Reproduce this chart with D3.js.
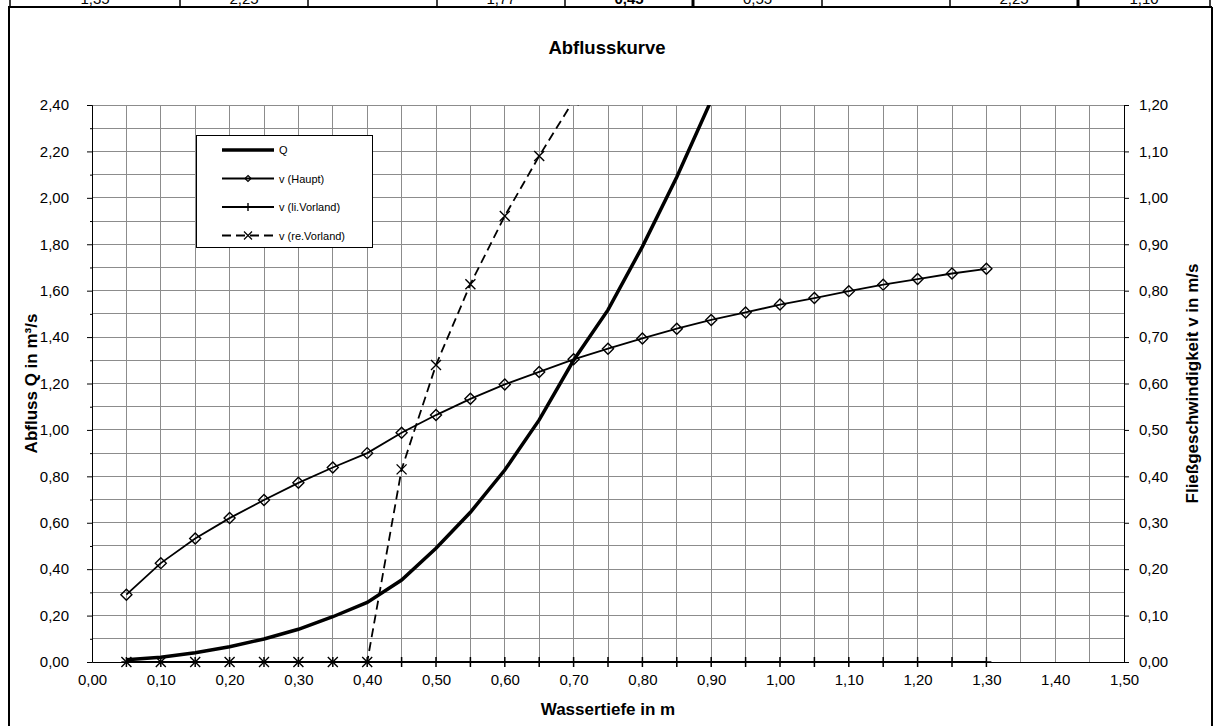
<!DOCTYPE html>
<html>
<head>
<meta charset="utf-8">
<script src="https://cdn.jsdelivr.net/npm/d3@7"></script>
<style>
  body { margin: 0; background: #fff; }
  text { font-family: "Liberation Sans", Arial, sans-serif; }
</style>
</head>
<body>
<div id="chart"></div>
<script>
// Wassertiefe (m)
const depths = [0.05, 0.10, 0.15, 0.20, 0.25, 0.30, 0.35, 0.40, 0.45, 0.50, 0.55, 0.60, 0.65,
                0.70, 0.75, 0.80, 0.85, 0.90, 0.95, 1.00, 1.05, 1.10, 1.15, 1.20, 1.25, 1.30];
// Abfluss Q (m³/s), left axis; goes off the top after 0.90
const qValues = [0.01, 0.02, 0.04, 0.066, 0.099, 0.141, 0.195, 0.257, 0.353, 0.49, 0.645, 0.827, 1.043,
                 1.30, 1.517, 1.79, 2.09, 2.42];
// v (Haupt) m/s, right axis
const vHaupt = [0.145, 0.213, 0.266, 0.31, 0.349, 0.386, 0.419, 0.45, 0.494, 0.532, 0.567, 0.598, 0.625,
                0.652, 0.675, 0.697, 0.718, 0.737, 0.753, 0.770, 0.784, 0.799, 0.813, 0.825, 0.837, 0.847];
// v (li.Vorland) m/s
const vLi = [0, 0, 0, 0, 0, 0, 0, 0, 0, 0, 0, 0, 0, 0, 0, 0, 0, 0, 0, 0, 0, 0, 0, 0, 0, 0];
// v (re.Vorland) m/s; goes off the top after 0.65
const vRe = [0, 0, 0, 0, 0, 0, 0, 0, 0.415, 0.64, 0.814, 0.961, 1.09, 1.21];

const legendNames = ["Q", "v (Haupt)", "v (li.Vorland)", "v (re.Vorland)"];
// table row above the chart (only the bottom of it is visible)
const tableCells = ["1,35", "2,25", "", "1,77", "0,45", "0,55", "", "2,25", "1,10"];
const tableEdges = [10, 180, 308, 437, 565, 693, 822, 950, 1078, 1210];

const W = 1214, H = 726;
const margin = {top: 105, right: 90, bottom: 64, left: 92},
      width = W - margin.left - margin.right,
      height = H - margin.top - margin.bottom;

const fmt = v => d3.format(".2f")(v).replace(".", ",");

const root = d3.select("#chart").append("svg")
    .attr("width", W)
    .attr("height", H);

// table strip at the very top
root.selectAll(".cellText")
  .data(tableCells)
  .join("text")
    .attr("x", (d, i) => (tableEdges[i] + tableEdges[i + 1]) / 2)
    .attr("y", 4)
    .attr("text-anchor", "middle")
    .style("font-size", "15px")
    .style("font-weight", (d, i) => i === 4 ? "bold" : "normal")
    .text(d => d);
root.append("rect").attr("x", 0).attr("y", 6).attr("width", W).attr("height", H - 6).attr("fill", "#fff");
root.selectAll(".cellLine")
  .data(tableEdges)
  .join("line")
    .attr("x1", d => d).attr("x2", d => d)
    .attr("y1", 0).attr("y2", 7)
    .attr("stroke", "#000")
    .attr("stroke-width", (d, i) => (i === 5 || i === 8) ? 3 : 1.5);
root.append("line").attr("x1", 8).attr("x2", 1212).attr("y1", 7).attr("y2", 7)
    .attr("stroke", "#000").attr("stroke-width", 2);
// chart frame
root.append("line").attr("x1", 9).attr("x2", 9).attr("y1", 7).attr("y2", H)
    .attr("stroke", "#000").attr("stroke-width", 2);
root.append("line").attr("x1", 1212).attr("x2", 1212).attr("y1", 7).attr("y2", H)
    .attr("stroke", "#000").attr("stroke-width", 2);

const svg = root.append("g")
    .attr("transform", `translate(${margin.left}, ${margin.top})`);

const x = d3.scaleLinear().domain([0, 1.5]).range([0, width]);
const yL = d3.scaleLinear().domain([0, 2.4]).range([height, 0]);
const yR = d3.scaleLinear().domain([0, 1.2]).range([height, 0]);

// grid
svg.append("g")
  .selectAll("line")
  .data(d3.range(1, 31).map(i => i * 0.05))
  .join("line")
    .attr("x1", d => x(d)).attr("x2", d => x(d))
    .attr("y1", 0).attr("y2", height)
    .attr("stroke", "#8c8c8c").attr("stroke-width", 1)
    .attr("shape-rendering", "crispEdges");
svg.append("g")
  .selectAll("line")
  .data(d3.range(1, 25).map(i => i * 0.1))
  .join("line")
    .attr("x1", 0).attr("x2", width)
    .attr("y1", d => yL(d)).attr("y2", d => yL(d))
    .attr("stroke", "#8c8c8c").attr("stroke-width", 1)
    .attr("shape-rendering", "crispEdges");

// left axis
const leftTicks = d3.range(0, 13).map(i => i * 0.2);
svg.append("g")
    .call(d3.axisLeft(yL).tickValues(leftTicks).tickFormat(fmt).tickSize(5).tickPadding(18))
    .call(g => g.selectAll("text").style("font-size", "15px").attr("fill", "#000"))
    .call(g => g.selectAll("line, path").attr("stroke", "#000"));
svg.append("g")
    .call(d3.axisLeft(yL).tickValues(d3.range(0, 12).map(i => i * 0.2 + 0.1)).tickFormat("").tickSize(2))
    .call(g => g.select("path").remove());

// right axis
svg.append("g")
    .attr("transform", `translate(${width}, 0)`)
    .call(d3.axisRight(yR).tickValues(d3.range(0, 13).map(i => i * 0.1)).tickFormat(fmt).tickSize(5).tickPadding(10))
    .call(g => g.selectAll("text").style("font-size", "15px").attr("fill", "#000"))
    .call(g => g.selectAll("line, path").attr("stroke", "#000"));

// bottom axis
svg.append("g")
    .attr("transform", `translate(0, ${height})`)
    .call(d3.axisBottom(x).tickValues(d3.range(0, 16).map(i => i * 0.1)).tickFormat(fmt).tickSize(0).tickPadding(12))
    .call(g => g.selectAll("text").style("font-size", "15px").attr("fill", "#000"))
    .call(g => g.select("path").attr("stroke", "#000"));

// clip to plot area
svg.append("clipPath").attr("id", "plotClip")
  .append("rect").attr("x", -6).attr("y", 0).attr("width", width + 12).attr("height", height + 8);

const plot = svg.append("g").attr("clip-path", "url(#plotClip)");

const lineL = d3.line().x(d => x(d[0])).y(d => yL(d[1]));
const lineR = d3.line().x(d => x(d[0])).y(d => yR(d[1]));

const qData = qValues.map((v, i) => [depths[i], v]);
const hData = vHaupt.map((v, i) => [depths[i], v]);
const liData = vLi.map((v, i) => [depths[i], v]);
const reData = vRe.map((v, i) => [depths[i], v]);

// v (li.Vorland)
plot.append("path").datum(liData).attr("d", lineR)
    .attr("fill", "none").attr("stroke", "#000").attr("stroke-width", 2);
plot.append("g").selectAll("path").data(liData).join("path")
    .attr("d", d => `M${x(d[0]) - 5},${yR(d[1])}h10M${x(d[0])},${yR(d[1]) - 5}v10`)
    .attr("stroke", "#000").attr("stroke-width", 1.5);

// v (re.Vorland)
plot.append("path").datum(reData).attr("d", lineR)
    .attr("fill", "none").attr("stroke", "#000").attr("stroke-width", 1.8)
    .attr("stroke-dasharray", "9,5");
plot.append("g").selectAll("path").data(reData).join("path")
    .attr("d", d => `M${x(d[0]) - 5},${yR(d[1]) - 5}l10,10M${x(d[0]) - 5},${yR(d[1]) + 5}l10,-10`)
    .attr("stroke", "#000").attr("stroke-width", 1.4);

// v (Haupt)
plot.append("path").datum(hData).attr("d", lineR)
    .attr("fill", "none").attr("stroke", "#000").attr("stroke-width", 1.8);
plot.append("g").selectAll("path").data(hData).join("path")
    .attr("d", d => `M${x(d[0])},${yR(d[1]) - 5.5}l5.5,5.5l-5.5,5.5l-5.5,-5.5z`)
    .attr("fill", "none").attr("stroke", "#000").attr("stroke-width", 1.4);

// Q
plot.append("path").datum(qData).attr("d", lineL)
    .attr("fill", "none").attr("stroke", "#000").attr("stroke-width", 3.5);

// titles
root.append("text")
    .attr("x", 607).attr("y", 54)
    .attr("text-anchor", "middle")
    .style("font-size", "18.5px").style("font-weight", "bold")
    .text("Abflusskurve");

root.append("text")
    .attr("x", margin.left + width / 2).attr("y", 715)
    .attr("text-anchor", "middle")
    .style("font-size", "17px").style("font-weight", "bold")
    .text("Wassertiefe in m");

root.append("text")
    .attr("transform", `translate(37, ${margin.top + height / 2}) rotate(-90)`)
    .attr("text-anchor", "middle")
    .style("font-size", "17px").style("font-weight", "bold")
    .text("Abfluss Q  in m³/s");

root.append("text")
    .attr("transform", `translate(1198, ${margin.top + height / 2}) rotate(-90)`)
    .attr("text-anchor", "middle")
    .style("font-size", "17px").style("font-weight", "bold")
    .text("Fließgeschwindigkeit v in m/s");

// legend
const legend = root.append("g");
legend.append("rect")
    .attr("x", 196.5).attr("y", 135.5).attr("width", 176).attr("height", 112)
    .attr("fill", "#fff").attr("stroke", "#000").attr("stroke-width", 1);
const rowY = d => 150 + d * 28.5;
legendNames.forEach((name, i) => {
  const yy = rowY(i);
  const ln = legend.append("line")
      .attr("x1", 222).attr("x2", 274).attr("y1", yy).attr("y2", yy)
      .attr("stroke", "#000").attr("stroke-width", i === 0 ? 3.5 : 1.8);
  if (i === 3) ln.attr("stroke-dasharray", "9,5");
  const mx = 248;
  if (i === 1) legend.append("path")
      .attr("d", `M${mx},${yy - 3}l3,3l-3,3l-3,-3z`)
      .attr("fill", "none").attr("stroke", "#000").attr("stroke-width", 1.2);
  if (i === 2) legend.append("path")
      .attr("d", `M${mx},${yy - 4}v8`)
      .attr("stroke", "#000").attr("stroke-width", 1.4);
  if (i === 3) legend.append("path")
      .attr("d", `M${mx - 4},${yy - 4}l8,8M${mx - 4},${yy + 4}l8,-8`)
      .attr("stroke", "#000").attr("stroke-width", 1.2);
  legend.append("text")
      .attr("x", 279).attr("y", yy + 4)
      .style("font-size", "11px")
      .text(name);
});
</script>
</body>
</html>
